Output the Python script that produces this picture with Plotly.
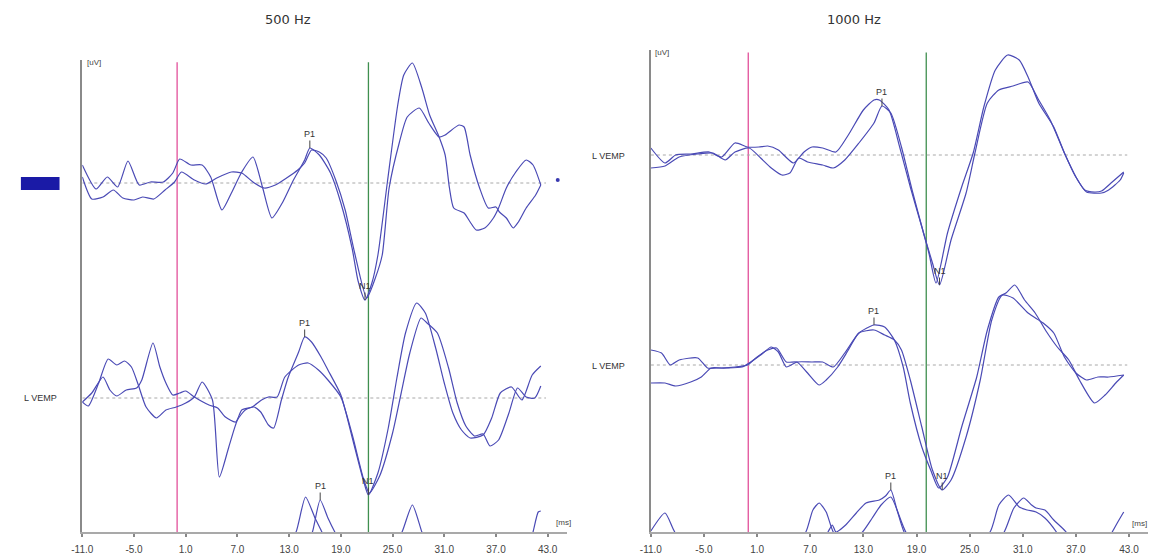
import numpy as np
import plotly.graph_objects as go

# ---------------- data: latency (ms) and amplitude (uV) ----------------
# 500 Hz - channel 1 (top)
T500_C1_A = [-11.0, -9.4, -8.1, -6.9, -5.7, -4.4, -3.1, -1.6, -0.5, 0.3, 1.6, 2.9, 3.9, 5.2, 6.3, 7.5, 8.8, 9.9, 11.0, 12.2,
             13.5, 14.8, 15.4, 16.5, 17.8, 19.0, 20.3, 21.0, 21.8, 22.6, 23.3, 24.4, 25.6, 26.3, 27.3, 28.4, 29.3, 30.4, 31.1, 31.6,
             32.1, 33.3, 34.0, 34.7, 35.7, 36.7, 37.3, 38.2, 39.3, 40.5, 41.3, 42.2]
V500_C1_A = [1.8, -0.6, 0.6, -0.4, 2.2, -0.2, 0.1, 0.1, 1.0, 2.4, 1.8, 1.8, 0.6, -2.7, -1.0, 1.1, 2.6, -0.4, -3.5, -2.0,
             0.3, 2.3, 3.5, 2.8, 1.0, -2.0, -6.5, -9.8, -11.7, -10.0, -7.2, 0.1, 7.8, 10.8, 12.0, 9.5, 6.8, 4.6, 2.8, -0.5,
             -2.5, -3.0, -3.9, -4.7, -4.5, -3.5, -2.5, -0.5, 1.1, 2.3, 1.8, -0.2]
T500_C1_B = [-11.0, -9.9, -8.6, -7.4, -6.3, -5.0, -4.0, -2.7, -1.4, -0.3, 0.5, 2.0, 3.3, 4.6, 6.3, 7.5, 8.8, 10.1, 11.4, 12.7,
             14.0, 14.8, 15.6, 16.5, 17.3, 18.4, 19.5, 20.6, 22.0, 23.0, 23.8, 24.6, 25.8, 26.7, 28.1, 29.2, 30.4, 31.1, 32.7, 33.3,
             34.0, 35.1, 36.1, 37.0, 37.4, 38.2, 39.0, 39.6, 40.5, 41.6, 42.2]
V500_C1_B = [0.6, -1.6, -1.4, -0.7, -1.5, -1.7, -1.4, -1.6, -0.7, 0.1, 1.1, 0.3, -0.1, 0.5, 1.1, 1.0, 0.1, -0.5, -0.2, 0.5,
             1.3, 2.0, 3.3, 3.1, 2.5, 0.3, -2.7, -7.0, -11.5, -9.5, -7.2, -0.5, 4.1, 6.6, 7.5, 6.0, 4.6, 4.8, 5.8, 5.6,
             2.8, -0.5, -2.5, -2.4, -2.9, -3.5, -4.5, -3.9, -2.5, -1.2, -0.2]
# 500 Hz - channel 2 (middle)
T500_C2_A = [-11.0, -10.3, -9.1, -8.0, -7.0, -6.1, -5.3, -4.5, -3.6, -2.4, -1.3, -0.1, 1.0, 2.0, 2.9, 4.1, 4.9, 6.0, 7.0, 7.9,
             8.9, 9.7, 10.6, 11.2, 12.1, 12.9, 14.1, 14.8, 15.6, 16.7, 17.5, 19.0, 20.3, 21.6, 22.2, 23.3, 24.5, 25.5, 26.5, 27.8,
             28.8, 30.0, 31.0, 32.0, 33.0, 34.0, 35.5, 36.5, 37.5, 38.8, 40.0, 41.2, 42.2]
V500_C2_A = [-0.4, -0.8, 1.5, 3.9, 3.3, 3.7, 3.1, 1.3, -0.9, -2.0, -1.2, -0.9, -0.5, 0.1, 1.6, -0.2, -7.9, -4.9, -2.2, -1.2,
             -0.9, -1.4, -2.7, -3.0, -0.2, 2.1, 4.6, 6.1, 5.6, 4.1, 2.8, 0.3, -3.9, -8.2, -9.7, -7.5, -3.0, 2.0, 6.5, 9.5,
             8.5, 5.0, 1.5, -1.5, -3.2, -4.0, -3.7, -2.0, 0.5, 1.1, -0.2, 2.3, 3.2]
T500_C2_B = [-11.0, -9.9, -8.6, -7.8, -7.0, -5.9, -4.7, -4.1, -2.8, -2.0, -1.3, -0.5, 0.3, 1.0, 2.0, 3.7, 4.7, 5.6, 6.8, 7.5,
             8.7, 9.8, 10.6, 11.6, 12.5, 14.1, 15.2, 16.4, 17.5, 19.0, 20.3, 21.6, 22.3, 23.5, 25.0, 26.0, 27.0, 28.3, 29.0, 30.2,
             31.5, 32.5, 33.5, 34.5, 35.5, 36.3, 37.3, 38.5, 39.5, 40.5, 41.5, 42.2]
V500_C2_B = [-0.4, 0.5, 2.1, 0.8, 0.2, 0.8, 1.0, 1.8, 5.5, 3.1, 1.5, 0.3, 0.5, 0.7, 0.1, -0.7, -1.0, -1.9, -2.4, -1.2,
             -0.9, -0.2, 0.1, 0.1, 2.1, 3.3, 3.5, 2.8, 1.8, 0.1, -3.6, -8.0, -9.5, -7.8, -3.5, 0.5, 4.5, 8.0, 7.5, 6.5,
             3.0, -0.5, -2.8, -3.8, -3.6, -4.8, -4.2, -1.5, 1.0, 0.1, 0.0, 1.2]
# 500 Hz - channel 3 (bottom, mostly below the axis)
T500_C3_A = [-11.0, -6.0, -1.0, 4.0, 9.0, 12.5, 13.8, 14.9, 16.0, 16.8, 17.5, 20.0, 24.0, 26.1, 27.3, 28.4, 29.5, 34.0, 39.0, 42.2]
V500_C3_A = [0.5, -1.0, 1.0, -2.0, 0.5, 2.5, 4.3, 7.8, 5.7, 4.3, 3.0, 0.0, 1.0, 4.3, 7.0, 4.3, 2.0, -1.0, 0.0, 1.0]
T500_C3_B = [-11.0, -5.0, 0.0, 5.0, 10.0, 14.0, 15.0, 15.7, 16.6, 17.5, 18.3, 19.5, 23.0, 28.0, 33.0, 38.0, 40.5, 41.3, 41.9, 42.2]
V500_C3_B = [-1.0, 0.5, -1.0, 0.0, -1.0, 1.5, 3.0, 4.3, 7.5, 5.7, 4.3, 2.5, -1.0, 1.0, 0.0, -1.0, 2.0, 4.3, 6.3, 6.4]

# 1000 Hz - channel 1 (top)
T1000_C1_A = [-11.0, -9.4, -8.2, -6.5, -4.4, -3.0, -1.5, -0.1, 1.2, 2.2, 3.4, 5.1, 6.3, 7.2, 8.4, 9.9, 11.3, 13.0, 14.2, 14.8,
              15.9, 17.1, 18.3, 19.6, 20.4, 21.2, 22.5, 24.1, 25.4, 26.6, 27.9, 29.3, 30.6, 31.6, 32.8, 34.5, 35.7, 37.0, 38.0, 39.1,
              39.9, 41.1, 42.4]
V1000_C1_A = [0.7, -0.8, 0.0, 0.1, 0.3, -0.2, 1.2, 0.8, 0.8, 0.9, 0.5, -0.8, 0.3, 0.8, 0.7, 0.3, 2.0, 4.5, 5.5, 5.5,
              4.5, 0.8, -3.2, -7.2, -9.8, -12.8, -7.8, -3.2, 0.2, 4.8, 8.5, 10.0, 9.5, 7.8, 5.2, 2.8, 0.2, -2.2, -3.5, -3.7,
              -3.6, -2.7, -1.7]
T1000_C1_B = [-11.0, -9.4, -7.8, -5.7, -4.0, -2.6, -1.5, 0.1, 1.4, 2.6, 3.8, 4.7, 5.7, 6.7, 8.4, 9.6, 10.9, 12.5, 14.2, 15.1,
              16.1, 17.3, 18.5, 19.8, 20.8, 21.6, 22.9, 24.6, 25.6, 27.0, 28.3, 29.9, 31.6, 32.8, 34.1, 35.7, 37.0, 38.2, 39.9, 40.7,
              42.0, 42.4]
V1000_C1_B = [-1.3, -1.1, -0.2, 0.1, 0.2, -0.5, 0.3, 0.7, -0.3, -1.3, -2.0, -1.8, -0.3, -0.7, -1.0, -1.3, -0.5, 1.2, 3.2, 4.9,
              4.2, 0.8, -3.5, -7.8, -10.8, -13.0, -8.5, -3.8, 0.2, 5.2, 6.5, 6.9, 7.3, 5.5, 3.5, 0.2, -2.2, -3.7, -3.8, -3.5,
              -2.5, -1.8]
# 1000 Hz - channel 2 (middle)
T1000_C2_A = [-11.0, -9.8, -8.8, -7.8, -5.7, -4.6, -3.6, -2.4, -0.7, 0.1, 1.4, 2.6, 3.4, 4.3, 5.5, 7.2, 8.4, 9.6, 10.9, 12.5,
              14.2, 15.4, 16.5, 17.5, 18.3, 19.6, 20.6, 21.5, 22.5, 24.1, 25.8, 27.0, 28.3, 29.1, 30.1, 31.2, 32.4, 33.7, 34.9, 36.2,
              37.4, 39.1, 40.3, 41.5, 42.4]
V1000_C2_A = [1.5, 1.2, 0.0, 0.5, 0.7, -0.3, -0.3, -0.3, -0.2, 0.2, 1.0, 1.8, 1.3, -0.2, 0.3, 0.3, 0.3, -0.2, 1.2, 3.2,
              4.0, 3.8, 2.5, -0.2, -3.8, -8.2, -10.5, -12.3, -11.2, -6.2, -1.2, 3.5, 6.8, 7.2, 8.0, 6.5, 5.2, 3.3, 1.8, 0.5,
              -1.5, -3.8, -3.0, -1.8, -1.0]
T1000_C2_B = [-11.0, -9.4, -8.2, -6.5, -5.3, -4.2, -3.0, -1.5, -0.1, 1.0, 2.2, 3.2, 4.3, 5.5, 6.7, 8.0, 8.8, 10.1, 11.3, 12.5,
              14.2, 15.4, 16.5, 17.3, 18.3, 19.6, 20.8, 21.9, 22.9, 24.6, 26.2, 27.5, 28.7, 29.9, 31.6, 33.3, 34.5, 35.7, 37.0, 38.2,
              39.5, 40.7, 42.4]
V1000_C2_B = [-1.8, -1.8, -2.1, -1.7, -1.2, -0.3, -0.3, -0.2, 0.0, 0.8, 1.5, 1.7, 0.3, 0.3, -0.8, -2.0, -1.5, -0.2, 1.5, 3.2,
              3.5, 3.0, 2.5, 1.5, -1.5, -6.2, -10.5, -12.5, -11.5, -7.2, -1.5, 4.5, 7.0, 6.7, 5.2, 4.2, 3.2, 0.8, -0.8, -1.5,
              -1.2, -1.2, -1.0]
# 1000 Hz - channel 3 (bottom, mostly below the axis)
T1000_C3_A = [-11.0, -9.4, -8.3, -6.0, -2.0, 2.0, 5.0, 6.5, 7.3, 8.0, 8.8, 9.6, 11.0, 12.9, 14.0, 15.0, 16.1, 17.8, 20.0, 24.0,
              27.3, 28.3, 29.4, 30.6, 31.5, 32.5, 33.5, 34.8, 36.0, 39.0, 42.4]
V1000_C3_A = [2.9, 4.7, 2.8, 0.5, 1.0, 0.0, 1.5, 2.8, 5.0, 5.7, 4.8, 2.8, 1.5, 2.8, 4.2, 5.5, 6.3, 2.8, 1.0, 0.5,
              2.8, 5.5, 6.5, 5.3, 5.0, 4.8, 4.2, 2.8, 1.0, 0.0, 0.5]
T1000_C3_B = [-11.0, -8.0, -4.0, 0.0, 4.0, 8.0, 9.0, 9.5, 9.9, 11.0, 12.2, 13.3, 14.8, 15.5, 16.1, 16.8, 17.6, 19.0, 23.0, 27.0,
              28.9, 30.0, 31.1, 32.0, 32.5, 33.5, 34.5, 35.9, 37.0, 39.0, 41.1, 41.8, 42.4]
V1000_C3_B = [0.0, 1.0, 0.0, 1.0, 0.5, 1.5, 2.8, 3.5, 2.8, 3.5, 4.7, 5.7, 6.0, 6.4, 7.0, 5.0, 2.8, 1.0, 0.0, 1.0,
              2.8, 5.2, 6.2, 5.5, 5.2, 5.0, 4.0, 2.8, 1.0, 0.0, 2.8, 3.9, 4.8]

STIM_ONSET = 0.0          # pink marker (ms)
MARK_500 = 22.2           # green marker (ms)
MARK_1000 = 20.1
TICKS = [-11, -5, 1, 7, 13, 19, 25, 31, 37, 43]
TICK_TEXT = [f"{t:.1f}" for t in TICKS]
CHANNEL_LABEL = "L VEMP"

# ---------------- layout constants ----------------
W, H = 1155, 558
OFFSETS_500 = (34.9, 13.4, -4.3)     # vertical stacking of channels
OFFSETS_1000 = (37.7, 16.7, -2.8)
LINE = "#4a4ab5"
PINK = "#e2509a"
GREEN = "#3f8f4f"
FONT = "Liberation Sans"

fig = go.Figure()


def px(x):
    return x / W


def py(y):
    return 1 - y / H


panels = [
    dict(xa="x", ya="y", off=OFFSETS_500, mark=MARK_500,
         chans=[[(T500_C1_A, V500_C1_A), (T500_C1_B, V500_C1_B)],
                [(T500_C2_A, V500_C2_A), (T500_C2_B, V500_C2_B)],
                [(T500_C3_A, V500_C3_A), (T500_C3_B, V500_C3_B)]],
         labels=[(0, 0, (13, 17), "P1", "max"), (0, 0, (20, 23), "N1", "min"),
                 (1, 0, (13, 17), "P1", "max"), (1, 0, (21, 23), "N1", "min"),
                 (2, 1, (15, 18), "P1", "max")]),
    dict(xa="x2", ya="y2", off=OFFSETS_1000, mark=MARK_1000,
         chans=[[(T1000_C1_A, V1000_C1_A), (T1000_C1_B, V1000_C1_B)],
                [(T1000_C2_A, V1000_C2_A), (T1000_C2_B, V1000_C2_B)],
                [(T1000_C3_A, V1000_C3_A), (T1000_C3_B, V1000_C3_B)]],
         labels=[(0, 1, (14, 16), "P1", "max"), (0, 1, (20, 23), "N1", "min"),
                 (1, 0, (13, 17), "P1", "max"), (1, 1, (20, 23), "N1", "min"),
                 (2, 1, (15, 17), "P1", "max")]),
]

shapes = []
annotations = []
for p in panels:
    for ci, chan in enumerate(p["chans"]):
        for (t, v) in chan:
            fig.add_trace(go.Scatter(x=t, y=np.array(v) + p["off"][ci], mode="lines",
                                     line=dict(color=LINE, width=1.2, shape="spline", smoothing=0.6),
                                     xaxis=p["xa"], yaxis=p["ya"], hoverinfo="skip"))
        if ci < 2:
            shapes.append(dict(type="line", xref=p["xa"], yref=p["ya"], x0=-11, x1=42.8,
                               y0=p["off"][ci], y1=p["off"][ci], layer="below",
                               line=dict(color="#a8a8a8", width=1, dash="dot")))
    for xv, col in ((STIM_ONSET, PINK), (p["mark"], GREEN)):
        shapes.append(dict(type="line", xref=p["xa"], yref=p["ya"] + " domain", x0=xv, x1=xv,
                           y0=0, y1=0.995, layer="below", line=dict(color=col, width=1.3)))
    for ci, ti, (w0, w1), txt, kind in p["labels"]:
        t = np.array(p["chans"][ci][ti][0])
        v = np.array(p["chans"][ci][ti][1])
        m = (t >= w0) & (t <= w1)
        k = np.argmax(v[m]) if kind == "max" else np.argmin(v[m])
        annotations.append(dict(x=t[m][k], y=v[m][k] + p["off"][ci], xref=p["xa"], yref=p["ya"],
                                text=txt, showarrow=True, arrowhead=0, arrowwidth=1, arrowcolor="#444",
                                ax=0, ay=-14, font=dict(family=FONT, size=9, color="#333")))

# titles and side labels (paper coordinates, centred on the given pixel)
for txt, x, y in (("500 Hz", 280, 19), ("1000 Hz", 851, 19)):
    annotations.append(dict(text=txt, x=px(x), y=py(y), xref="paper", yref="paper", showarrow=False,
                            xanchor="center", yanchor="middle",
                            font=dict(family="DejaVu Sans", size=13, color="#333")))
for x, y in ((30, 398), (603, 156), (603, 366)):
    annotations.append(dict(text=CHANNEL_LABEL, x=px(x), y=py(y), xref="paper", yref="paper", showarrow=False,
                            xanchor="center", yanchor="middle",
                            font=dict(family=FONT, size=9, color="#333")))
for txt, x, y in (("[uV]", 84, 62), ("[uV]", 657, 53), ("[ms]", 558, 522), ("[ms]", 1139, 523)):
    annotations.append(dict(text=txt, x=px(x), y=py(y), xref="paper", yref="paper", showarrow=False,
                            xanchor="center", yanchor="middle",
                            font=dict(family=FONT, size=8, color="#444")))

# blue channel marker and small dot
shapes.append(dict(type="rect", xref="paper", yref="paper", x0=px(10), x1=px(49), y0=py(190), y1=py(177),
                   fillcolor="#1a1aa6", line=dict(width=0)))
shapes.append(dict(type="circle", xref="paper", yref="paper", x0=px(550), x1=px(554), y0=py(182), y1=py(178),
                   fillcolor="#3a3ab0", line=dict(width=0)))

xcommon = dict(tickmode="array", tickvals=TICKS, ticktext=TICK_TEXT, showgrid=False, zeroline=False,
               showline=True, linecolor="#a9a9a9", linewidth=2, ticks="outside", ticklen=3, tickwidth=2,
               tickcolor="#888", tickfont=dict(family=FONT, size=10, color="#444"), ticklabelstandoff=4)
ycommon = dict(showgrid=False, zeroline=False, showline=True, linecolor="#8a8a8a", linewidth=2,
               showticklabels=False, ticks="")

fig.update_layout(
    width=W, height=H, margin=dict(l=0, r=0, t=0, b=0),
    paper_bgcolor="white", plot_bgcolor="white", showlegend=False,
    xaxis=dict(domain=[px(72), px(561)], range=[-11, 45.2], anchor="y", **xcommon),
    yaxis=dict(domain=[py(532), py(60)], range=[0, 47.2], anchor="x", **ycommon),
    xaxis2=dict(domain=[px(646), px(1148)], range=[-11, 45.15], anchor="y2", **xcommon),
    yaxis2=dict(domain=[py(532), py(50)], range=[0, 48.2], anchor="x2", **ycommon),
    shapes=shapes, annotations=annotations,
)

fig.write_html("out.html", config={"displayModeBar": False},
               post_script="document.body.style.margin='0px';")
